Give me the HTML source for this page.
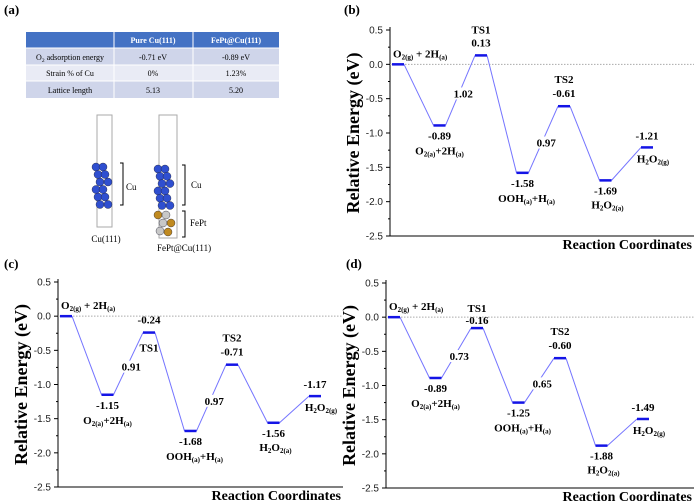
<!DOCTYPE html>
<html><head><meta charset="utf-8"><style>
body{margin:0;background:#fff}
svg{display:block}
.serif{font-family:"Liberation Serif",serif}
.sans{font-family:"Liberation Sans",sans-serif}
</style></head><body>
<svg id="fig" width="696" height="503" viewBox="0 0 696 503" xmlns="http://www.w3.org/2000/svg">
<g>
<text x="4" y="14" style="font-family:'Liberation Serif',serif" font-size="13" font-weight="bold">(a)</text>
<g style="font-family:'Liberation Serif',serif" font-size="8">
<rect x="26" y="32" width="253" height="16" fill="#4472c4"/>
<rect x="26" y="48" width="253" height="17" fill="#cfd5ea"/>
<rect x="26" y="65" width="253" height="16" fill="#e9ebf5"/>
<rect x="26" y="81" width="253" height="17" fill="#cfd5ea"/>
<line x1="114" y1="32" x2="114" y2="98" stroke="#fff" stroke-width="1"/>
<line x1="193" y1="32" x2="193" y2="98" stroke="#fff" stroke-width="1"/>
<line x1="26" y1="48" x2="279" y2="48" stroke="#fff"/>
<line x1="26" y1="65" x2="279" y2="65" stroke="#fff"/>
<line x1="26" y1="81" x2="279" y2="81" stroke="#fff"/>
<text x="153" y="43" text-anchor="middle" fill="#fff" font-weight="bold">Pure Cu(111)</text>
<text x="236" y="43" text-anchor="middle" fill="#fff" font-weight="bold">FePt@Cu(111)</text>
<text x="70" y="60" text-anchor="middle">O<tspan font-size="5.5" dy="2">2</tspan><tspan dy="-2"> adsorption energy</tspan></text>
<text x="153" y="60" text-anchor="middle">-0.71 eV</text>
<text x="236" y="60" text-anchor="middle">-0.89 eV</text>
<text x="70" y="76" text-anchor="middle">Strain % of Cu</text>
<text x="153" y="76" text-anchor="middle">0%</text>
<text x="236" y="76" text-anchor="middle">1.23%</text>
<text x="70" y="93" text-anchor="middle">Lattice length</text>
<text x="153" y="93" text-anchor="middle">5.13</text>
<text x="236" y="93" text-anchor="middle">5.20</text>
</g>
<g id="structs">
<rect x="97" y="115" width="15" height="112" fill="none" stroke="#aaa" stroke-width="1"/>
<rect x="159" y="115" width="18" height="123" fill="none" stroke="#aaa" stroke-width="1"/>
<g fill="none" stroke="#000" stroke-width="1">
<polyline points="120,163 123,163 123,205 120,205"/>
<polyline points="182,165 185,165 185,205 182,205"/>
<polyline points="182,211 185,211 185,237 182,237"/>
</g>
<g style="font-family:'Liberation Serif',serif" font-size="9">
<text x="126" y="190">Cu</text>
<text x="191" y="188">Cu</text>
<text x="190" y="226">FePt</text>
<text x="106" y="242" text-anchor="middle">Cu(111)</text>
<text x="184" y="251" text-anchor="middle">FePt@Cu(111)</text>
</g>
</g>
</g>
<g id="panels"></g>
</svg>
<script>
// Chart data
const stateNames = ["O2(g)+2H(a)","O2(a)+2H(a)","TS1","OOH(a)+H(a)","TS2","H2O2(a)","H2O2(g)"];
const energiesB = [0, -0.89, 0.13, -1.58, -0.61, -1.69, -1.21];
const energiesC = [0, -1.15, -0.24, -1.68, -0.71, -1.56, -1.17];
const energiesD = [0, -0.89, -0.16, -1.25, -0.60, -1.88, -1.49];
const barriersB = ["1.02", "0.97"];
const barriersC = ["0.91", "0.97"];
const barriersD = ["0.73", "0.65"];
const valueLabelsB = ["", "-0.89", "0.13", "-1.58", "-0.61", "-1.69", "-1.21"];
const valueLabelsC = ["", "-1.15", "-0.24", "-1.68", "-0.71", "-1.56", "-1.17"];
const valueLabelsD = ["", "-0.89", "-0.16", "-1.25", "-0.60", "-1.88", "-1.49"];
const yTicks = [0.5, 0.0, -0.5, -1.0, -1.5, -2.0, -2.5];
const yTickLabels = ["0.5", "0.0", "-0.5", "-1.0", "-1.5", "-2.0", "-2.5"];

const NS = "http://www.w3.org/2000/svg";
const root = document.getElementById("panels");
const SERIF = "font-family:'Liberation Serif',serif";
const SANS = "font-family:'Liberation Sans',sans-serif";
function mk(tag, attrs, parent) {
  const e = document.createElementNS(NS, tag);
  for (const k in attrs) e.setAttribute(k, attrs[k]);
  (parent || root).appendChild(e);
  return e;
}
function richText(g, x, y, parts, anchor) {
  const t = mk("text", {x: x, y: y, "text-anchor": anchor || "middle", style: SERIF, "font-size": "11", "font-weight": "bold"}, g);
  parts.forEach(p => {
    const s = mk("tspan", {}, t);
    s.textContent = p[0];
    if (p[1]) { s.setAttribute("font-size", "7"); s.setAttribute("dy", "2"); }
    else s.setAttribute("dy", t.childNodes.length > 1 ? "-2" : "0");
  });
  return t;
}
const nameParts = [
  [["O"],["2(g)",1],[" + 2H"],["(a)",1]],
  [["O"],["2(a)",1],["+2H"],["(a)",1]],
  [["TS1"]],
  [["OOH"],["(a)",1],["+H"],["(a)",1]],
  [["TS2"]],
  [["H"],["2",1],["O"],["2(a)",1]],
  [["H"],["2",1],["O"],["2(g)",1]]
];

function panel(cfg) {
  const g = mk("g", {});
  
  
  const ax = cfg.ax, yTop = cfg.yTop, yBot = cfg.yBot;
  const yScale = v => yTop + (0.5 - v) * (yBot - yTop) / 3;
  const xScale = i => ax + 8 + i * 41.5;
  const pl = mk("text", {x: cfg.lx, y: cfg.ly, style: SERIF, "font-size": "13", "font-weight": "bold"}, g);
  pl.textContent = cfg.letter;
  
  
  const yAx = mk("line", {x1: ax, y1: yTop - 3, x2: ax, y2: yBot, stroke: "#000", "stroke-width": 1}, g);
  
  
  const xAx = mk("line", {x1: ax, y1: yBot, x2: cfg.xEnd, y2: yBot, stroke: "#000", "stroke-width": 1}, g);
  
  
  yTicks.forEach((v, i) => {
    const y = yScale(v);
    mk("line", {x1: ax - 4, y1: y, x2: ax, y2: y, stroke: "#000"}, g);
    if (i < yTicks.length - 1) { const ym = yScale(v - 0.25); mk("line", {x1: ax - 2, y1: ym, x2: ax, y2: ym, stroke: "#000"}, g); }
    const t = mk("text", {x: ax - 7, y: y + 3.5, "text-anchor": "end", style: SANS, "font-size": "10", fill: "#222"}, g);
    t.textContent = yTickLabels[i];
    
    
  });
  const ytl = mk("text", {x: 0, y: 0, transform: `translate(${ax - 31},${(yTop + yBot) / 2}) rotate(-90)`, "text-anchor": "middle", style: SERIF, "font-size": "18", "font-weight": "bold"}, g);
  ytl.textContent = "Relative Energy (eV)";
  
  
  const xtl = mk("text", {x: cfg.xEnd - 2, y: yBot + 13, "text-anchor": "end", style: SERIF, "font-size": "14", "font-weight": "bold"}, g);
  xtl.textContent = "Reaction Coordinates";
  
  
  const zl = mk("line", {x1: ax, y1: yScale(0), x2: cfg.xEnd, y2: yScale(0), stroke: "#aaa", "stroke-dasharray": "1.5,1.5"}, g);
  
  
  const E = cfg.energies, hw = 6;
  for (let i = 0; i < E.length - 1; i++) {
    const c = mk("line", {x1: xScale(i) + hw, y1: yScale(E[i]), x2: xScale(i + 1) - hw, y2: yScale(E[i + 1]), stroke: "#7474ff", "stroke-width": 1}, g);
    
    
  }
  E.forEach((v, i) => {
    const p = mk("line", {x1: xScale(i) - hw, y1: yScale(v), x2: xScale(i) + hw, y2: yScale(v), stroke: "#1414e6", "stroke-width": 2.5}, g);
    
    
  });
  [[1, 2], [3, 4]].forEach((pr, k) => {
    const mx = (xScale(pr[0]) + xScale(pr[1])) / 2, my = (yScale(E[pr[0]]) + yScale(E[pr[1]])) / 2;
    mk("rect", {x: mx - 10, y: my - 3, width: 22, height: 12, fill: "#fff"}, g);
    const t = mk("text", {x: mx + 3, y: my + 7, "text-anchor": "middle", style: SERIF, "font-size": "11", "font-weight": "bold"}, g);
    t.textContent = cfg.barriers[k];
    
    
  });
  E.forEach((v, i) => {
    const y = yScale(v), x = xScale(i);
    const o = cfg.off[i];
    if (i === 0) {
      const t = richText(g, x - 5, y - 7, nameParts[0], "start");
      
      
      return;
    }
    const vt = mk("text", {x: x + (o[2] || 0), y: y + o[0], "text-anchor": "middle", style: SERIF, "font-size": "11", "font-weight": "bold"}, g);
    vt.textContent = cfg.values[i];
    
    
    const nt = richText(g, x + (o[3] || 0), y + o[1], nameParts[i], "middle");
    
    
  });
}
panel({name: "panel-b", letter: "(b)", lx: 344, ly: 14, ax: 390, yTop: 30, yBot: 236, xEnd: 694, energies: energiesB, barriers: barriersB, values: valueLabelsB,
  off: [null, [14, 29], [-9, -22], [14, 29, 0, 4], [-9, -23], [14, 28, 0, 2], [-8, 15, 0, 6]]});
panel({name: "panel-c", letter: "(c)", lx: 4, ly: 268, ax: 58, yTop: 282, yBot: 487, xEnd: 343, energies: energiesC, barriers: barriersC, values: valueLabelsC,
  off: [null, [14, 29], [-9, 19], [14, 29, 0, 4], [-9, -23], [14, 28, 0, 2], [-8, 15, 0, 6]]});
panel({name: "panel-d", letter: "(d)", lx: 346, ly: 268, ax: 386, yTop: 283, yBot: 488, xEnd: 694, energies: energiesD, barriers: barriersD, values: valueLabelsD,
  off: [null, [14, 29], [-4, -16], [14, 29, 0, 4], [-9, -23], [14, 28, 0, 2], [-8, 15, 0, 6]]});

const sg = document.getElementById("structs");
function atom(x, y, col) {
  const c = mk("circle", {cx: x, cy: y, r: 4, fill: col, stroke: "#223", "stroke-width": 0.4}, sg);
  
  
}
const cuRows = [[96,103],[98,105],[100,108],[96,103],[98,105],[100,108]];
cuRows.forEach((r, k) => { r.forEach(x => atom(x, 167 + k * 7.5, "#2f4fd0")); });
cuRows.forEach((r, k) => { r.forEach(x => atom(x + 62, 169 + k * 7.3, "#2f4fd0")); });
atom(158, 215, "#c08a20"); atom(166, 215, "#c8c8c8");
atom(163, 223, "#c8c8c8"); atom(171, 223, "#c08a20");
atom(160, 231, "#c8c8c8"); atom(168, 232, "#c08a20");
</script>
</body></html>
